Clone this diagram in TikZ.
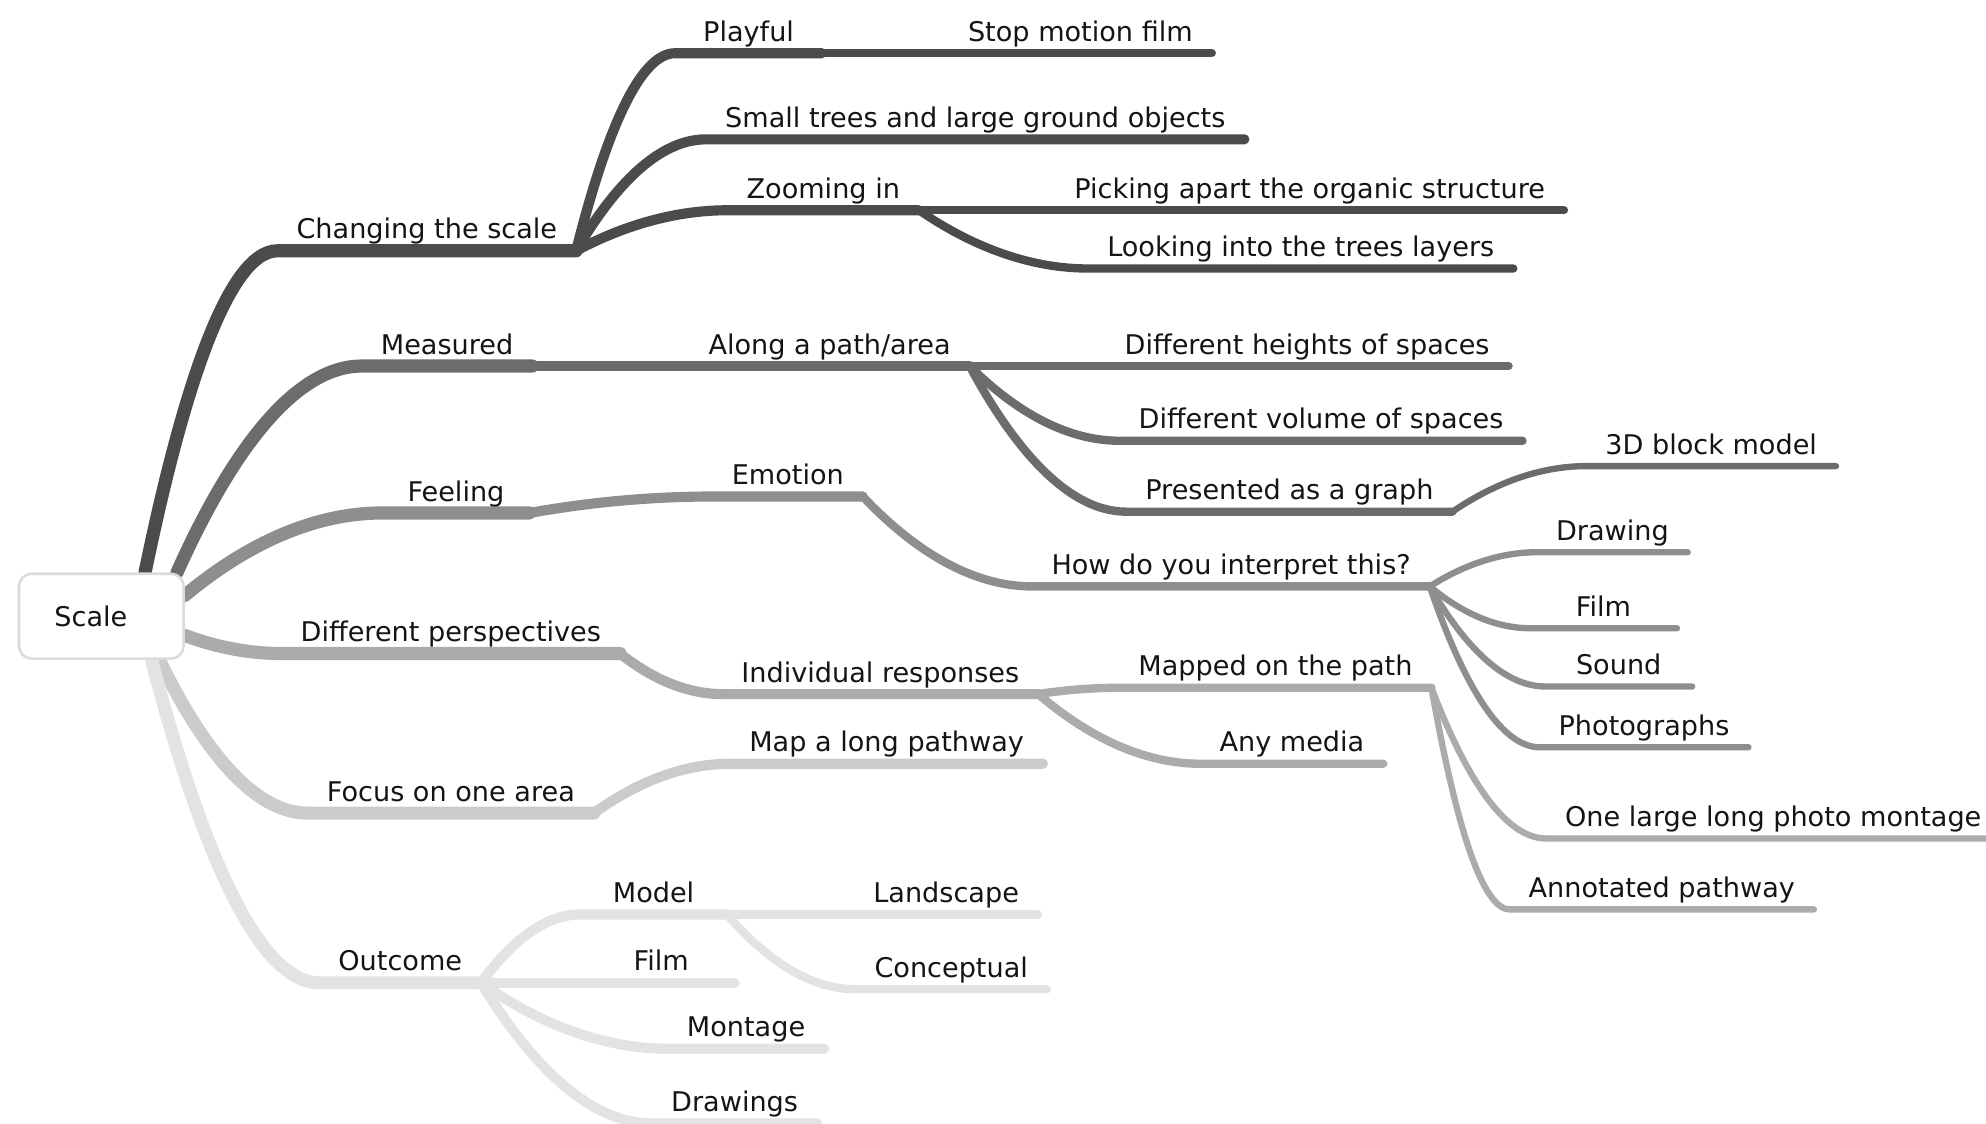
\documentclass[tikz,border=0pt]{standalone}
\usepackage{fontspec}
\setmainfont{DejaVu Sans}
\usetikzlibrary{calc,backgrounds}

\definecolor{gA}{HTML}{4B4B4B}
\definecolor{gB}{HTML}{6C6C6C}
\definecolor{gC}{HTML}{8E8E8E}
\definecolor{gD}{HTML}{ABABAB}
\definecolor{gE}{HTML}{CBCBCB}
\definecolor{gF}{HTML}{E3E3E3}

\tikzset{
  twig/.style={to path={let \p1=(\tikztostart), \p2=(\tikztotarget) in
    .. controls ({\x1+0.25*(\x2-\x1)},{\y1+0.5*(\y2-\y1)}) and ({\x2-0.4*(\x2-\x1)},\y2) .. (\tikztotarget)}},
  lvl1/.style={line width=5.2pt,line cap=round},
  lvl2/.style={line width=4pt,line cap=round},
  lvl3/.style={line width=3.3pt,line cap=round},
  lvl4/.style={line width=2.5pt,line cap=round}
}

\begin{document}
\begin{tikzpicture}[x=.5pt,y=-.5pt,
  lbl/.style={anchor=south,inner xsep=7.5pt,inner ysep=4.7pt,text depth=0pt,outer sep=0pt,
    minimum width=58pt,font=\fontsize{10.7}{12.8}\selectfont,text=black!92},
  rootbox/.style={draw=black!14,line width=1pt,fill=white,rounded corners=5pt,
    text width=37pt,align=left,inner xsep=14pt,inner ysep=0pt,
    minimum height=33.5pt,font=\fontsize{10.7}{12.8}\selectfont,text=black!92}]
\useasboundingbox (0,0) rectangle (1568,887);

\node [rootbox] (root) at (80,486.5) {Scale};

% changing the scale
\node [lbl] (cs) at (337,198) {Changing the scale};
\node [lbl] (play) at (591,42) {Playful};
\node [lbl] (stop) at (853,42) {Stop motion film};
\node [lbl] (small) at (770,110) {Small trees and large ground objects};
\node [lbl] (zoomin) at (650,166) {Zooming in};
\node [lbl] (pick) at (1034,166) {Picking apart the organic structure};
\node [lbl] (look) at (1027,212) {Looking into the trees layers};

% measured
\node [lbl] (meas) at (353,289) {Measured};
\node [lbl] (along) at (655,289) {Along a path/area};
\node [lbl] (heights) at (1032,289) {Different heights of spaces};
\node [lbl] (volume) at (1043,348) {Different volume of spaces};
\node [lbl] (graph) at (1018,404) {Presented as a graph};
\node [lbl] (block) at (1351,368) {3D block model};

% feeling
\node [lbl] (feel) at (360,405) {Feeling};
\node [lbl] (emo) at (622,392) {Emotion};
\node [lbl] (interp) at (972,463) {How do you interpret this?};
\node [lbl] (drawing) at (1273,436) {Drawing};
\node [lbl] (film) at (1266,496) {Film};
\node [lbl] (sound) at (1278,542) {Sound};
\node [lbl] (photo) at (1298,590) {Photographs};

% different perspectives
\node [lbl] (persp) at (356,516) {Different perspectives};
\node [lbl] (indiv) at (695,548) {Individual responses};
\node [lbl] (mapped) at (1007,543) {Mapped on the path};
\node [lbl] (media) at (1020,603) {Any media};
\node [lbl] (longmont) at (1400,662) {One large long photo montage};
\node [lbl] (annot) at (1312,718) {Annotated pathway};

% focus on one area
\node [lbl] (focus) at (356,642) {Focus on one area};
\node [lbl] (longpath) at (700,603) {Map a long pathway};

% outcome
\node [lbl] (outc) at (316,776) {Outcome};
\node [lbl] (model) at (516,722) {Model};
\node [lbl] (landsc) at (747,722) {Landscape};
\node [lbl] (concept) at (751,781) {Conceptual};
\node [lbl] (ofilm) at (522,776) {Film};
\node [lbl] (montage) at (589,828) {Montage};
\node [lbl] (drawings) at (580,887) {Drawings};

\begin{scope}[on background layer]
\clip (0,0) rectangle (1568,887);
\draw [lvl1,gA] (root.45) to[twig] (cs.south west) -- (cs.south east);
\draw [lvl2,gA] (cs.south east) to[twig] (play.south west) -- (play.south east);
\draw [lvl3,gA] (play.south east) to[twig] (stop.south west) -- (stop.south east);
\draw [lvl2,gA] (cs.south east) to[twig] (small.south west) -- (small.south east);
\draw [lvl2,gA] (cs.south east) to[twig] (zoomin.south west) -- (zoomin.south east);
\draw [lvl3,gA] (zoomin.south east) to[twig] (pick.south west) -- (pick.south east);
\draw [lvl3,gA] (zoomin.south east) to[twig] (look.south west) -- (look.south east);

\draw [lvl1,gB] (root.30) to[twig] (meas.south west) -- (meas.south east);
\draw [lvl2,gB] (meas.south east) to[twig] (along.south west) -- (along.south east);
\draw [lvl3,gB] (along.south east) to[twig] (heights.south west) -- (heights.south east);
\draw [lvl3,gB] (along.south east) to[twig] (volume.south west) -- (volume.south east);
\draw [lvl3,gB] (along.south east) to[twig] (graph.south west) -- (graph.south east);
\draw [lvl4,gB] (graph.south east) to[twig] (block.south west) -- (block.south east);

\draw [lvl1,gC] (root.14) to[twig] (feel.south west) -- (feel.south east);
\draw [lvl2,gC] (feel.south east) to[twig] (emo.south west) -- (emo.south east);
\draw [lvl3,gC] (emo.south east) to[twig] (interp.south west) -- (interp.south east);
\draw [lvl4,gC] (interp.south east) to[twig] (drawing.south west) -- (drawing.south east);
\draw [lvl4,gC] (interp.south east) to[twig] (film.south west) -- (film.south east);
\draw [lvl4,gC] (interp.south east) to[twig] (sound.south west) -- (sound.south east);
\draw [lvl4,gC] (interp.south east) to[twig] (photo.south west) -- (photo.south east);

\draw [lvl1,gD] (root.-13) to[twig] (persp.south west) -- (persp.south east);
\draw [lvl2,gD] (persp.south east) to[twig] (indiv.south west) -- (indiv.south east);
\draw [lvl3,gD] (indiv.south east) to[twig] (mapped.south west) -- (mapped.south east);
\draw [lvl3,gD] (indiv.south east) to[twig] (media.south west) -- (media.south east);
\draw [lvl4,gD] (mapped.south east) to[twig] (longmont.south west) -- (longmont.south east);
\draw [lvl4,gD] (mapped.south east) to[twig] (annot.south west) -- (annot.south east);

\draw [lvl1,gE] (root.-37) to[twig] (focus.south west) -- (focus.south east);
\draw [lvl2,gE] (focus.south east) to[twig] (longpath.south west) -- (longpath.south east);

\draw [lvl1,gF] (root.-41) to[twig] (outc.south west) -- (outc.south east);
\draw [lvl2,gF] (outc.south east) to[twig] (model.south west) -- (model.south east);
\draw [lvl3,gF] (model.south east) to[twig] (landsc.south west) -- (landsc.south east);
\draw [lvl3,gF] (model.south east) to[twig] (concept.south west) -- (concept.south east);
\draw [lvl2,gF] (outc.south east) to[twig] (ofilm.south west) -- (ofilm.south east);
\draw [lvl2,gF] (outc.south east) to[twig] (montage.south west) -- (montage.south east);
\draw [lvl2,gF] (outc.south east) to[twig] (drawings.south west) -- (drawings.south east);
\end{scope}
\end{tikzpicture}
\end{document}
